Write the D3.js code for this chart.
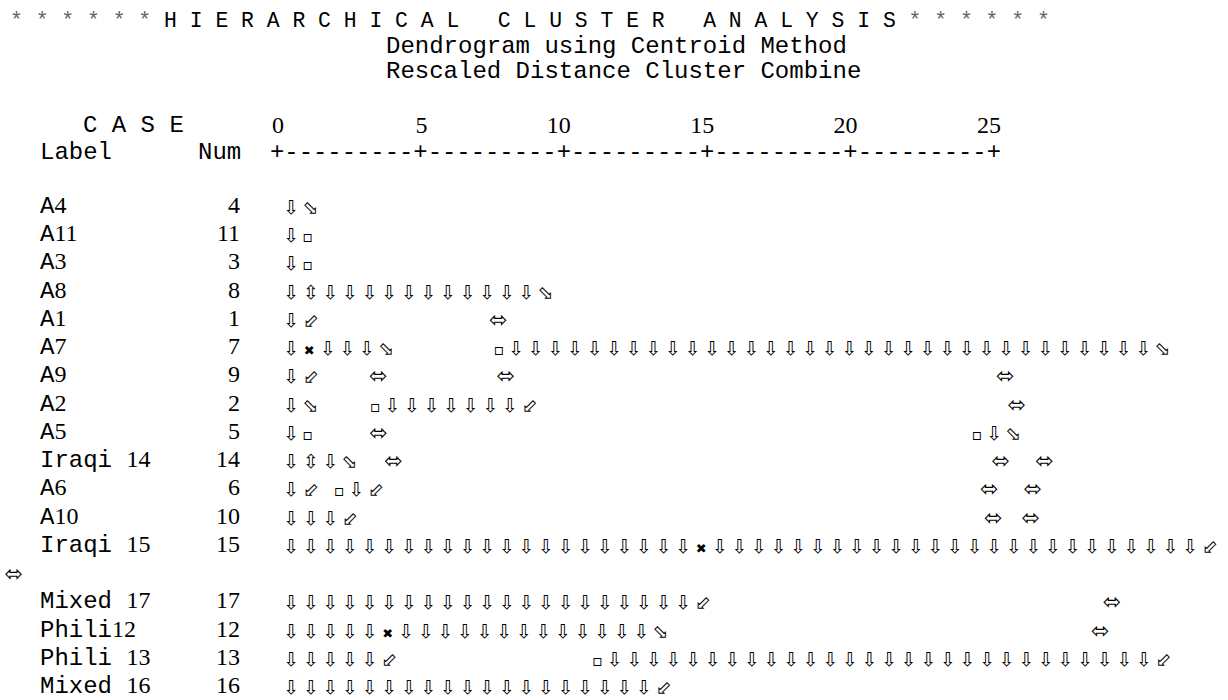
<!DOCTYPE html>
<html>
<head>
<meta charset="utf-8">
<script src="https://cdn.jsdelivr.net/npm/d3@7"></script>
<style>
  body { margin: 0; background: #fff; }
  text { fill: #000; }
</style>
</head>
<body>
<div id="chart"></div>
<script>
// text of the SPSS dendrogram output
var titleStars = "* * * * * *";
var titleWords = "H I E R A R C H I C A L   C L U S T E R   A N A L Y S I S";
var subtitles = ["Dendrogram using Centroid Method", "Rescaled Distance Cluster Combine"];
var axisTicks = [0, 5, 10, 15, 20, 25];
var axisRule = "+---------+---------+---------+---------+---------+";

var caseLabels = ["A4", "A11", "A3", "A8", "A1", "A7", "A9", "A2", "A5", "Iraqi 14",
                  "A6", "A10", "Iraqi 15", "", "Mixed 17", "Phili12", "Phili 13", "Mixed 16"];
var caseNums = ["4", "11", "3", "8", "1", "7", "9", "2", "5", "14",
                "6", "10", "15", "", "17", "12", "13", "16"];
// tree lines, glyph{n} = glyph repeated n times, " {n}" = n blanks
var treeLines = [
  "⇩⬂",
  "⇩▫",
  "⇩▫",
  "⇩⇳⇩{11}⬂",
  "⇩⬃ {28}⬄",
  "⇩✖⇩{3}⬂ {16}▫⇩{33}⬂",
  "⇩⬃ {8}⬄ {18}⬄ {80}⬄",
  "⇩⬂ {8}▫⇩{7}⬃ {78}⬄",
  "⇩▫ {9}⬄ {97}▫⇩⬂",
  "⇩⇳⇩⬂ {4}⬄ {98}⬄ {4}⬄",
  "⇩⬃ {2}▫⇩⬃ {99}⬄ {4}⬄",
  "⇩{3}⬃ {104}⬄ {3}⬄",
  "⇩{21}✖⇩{25}⬃",
  "⬄",
  "⇩{21}⬃ {65}⬄",
  "⇩{5}✖⇩{13}⬂ {70}⬄",
  "⇩{5}⬃ {32}▫⇩{28}⬃",
  "⇩{19}⬃"
];
var wrappedLine = 13;

var width = 1228, height = 700;
var mono = "'Liberation Mono','Courier New',monospace",
    serif = "'Liberation Serif','Times New Roman',serif",
    sym = "'DejaVu Sans',sans-serif";
var nbsp = function(s) { return s.replace(/ /g, "\u00A0"); };

var svg = d3.select("#chart").append("svg")
    .attr("width", width)
    .attr("height", height);

// title: stars, spaced words, stars
var title = svg.append("text")
  .attr("x", 10).attr("y", 27)
  .style("font-family", mono).style("font-size", "21.4px");
title.append("tspan").style("fill", "#666").text(nbsp(titleStars + " "));
title.append("tspan").text(nbsp(titleWords + " "));
title.append("tspan").style("fill", "#666").text(nbsp(titleStars));

svg.selectAll(".subtitle")
  .data(subtitles)
  .enter().append("text")
    .attr("class", "subtitle")
    .attr("x", 386)
    .attr("y", function(d, i) { return 53 + i * 25; })
    .style("font-family", mono).style("font-size", "24px")
    .text(function(d) { return d; });

// header + distance scale
var x = d3.scaleLinear().domain([0, 25]).range([277, 994]);

svg.append("text").attr("x", 83).attr("y", 132)
  .style("font-family", mono).style("font-size", "24px").text(nbsp("C A S E"));
svg.append("text").attr("x", 40).attr("y", 159)
  .style("font-family", mono).style("font-size", "24px").text("Label");
svg.append("text").attr("x", 198).attr("y", 159)
  .style("font-family", mono).style("font-size", "24px").text("Num");

svg.selectAll(".tick")
  .data(axisTicks)
  .enter().append("text")
    .attr("class", "tick")
    .attr("x", function(d) { return x(d) + 7; })
    .attr("y", 133)
    .attr("text-anchor", "end")
    .style("font-family", serif).style("font-size", "24px")
    .text(function(d) { return d; });

svg.append("text")
  .attr("x", x(0) - 7)
  .attr("y", 159)
  .attr("textLength", x(25) - x(0) + 14)
  .attr("lengthAdjust", "spacingAndGlyphs")
  .style("font-family", mono).style("font-size", "24px")
  .text(axisRule);

// case rows
var y = d3.scaleLinear().domain([0, caseLabels.length - 1]).range([213, 693]);

var labels = svg.selectAll(".label")
  .data(caseLabels)
  .enter().append("text")
    .attr("class", "label")
    .attr("x", 40)
    .attr("y", function(d, i) { return y(i); })
    .style("font-size", "24px");

// letters in Courier, digits in Times, as in the source document
labels.selectAll("tspan")
  .data(function(d) { return d.split(/(\d+)/).filter(function(s) { return s.length; }); })
  .enter().append("tspan")
    .style("font-family", function(s) { return /\d/.test(s) ? serif : mono; })
    .text(function(s) { return nbsp(s); });

svg.selectAll(".num")
  .data(caseNums)
  .enter().append("text")
    .attr("class", "num")
    .attr("x", 240)
    .attr("y", function(d, i) { return y(i); })
    .attr("text-anchor", "end")
    .style("font-family", serif).style("font-size", "24px")
    .text(function(d) { return d; });

// tree glyph advances, in glyph cells
var advance = { " ": 0.306, "▫": 0.714, "✖": 0.867 };
var cell = d3.scaleLinear().domain([0, 1]).range([0, 19.6]);

function expand(line) {
  var out = [];
  var re = /(.)(?:\{(\d+)\})?/gu, m;
  while ((m = re.exec(line)) !== null) {
    var n = m[2] ? +m[2] : 1;
    for (var k = 0; k < n; k++) out.push(m[1]);
  }
  return out;
}

var glyphs = [];
treeLines.forEach(function(line, i) {
  var pos = 0;
  var start = i === wrappedLine ? 4 : 281.2;
  expand(line).forEach(function(ch) {
    var a = advance[ch] !== undefined ? advance[ch] : 1;
    if (ch !== " ") glyphs.push({ row: i, ch: ch, cx: start + cell(pos + a / 2) });
    pos += a;
  });
});

var glyphSize = { "✖": "13px", "▫": "16px", "⬄": "22px" };

svg.selectAll(".glyph")
  .data(glyphs)
  .enter().append("text")
    .attr("class", "glyph")
    .attr("x", function(d) { return d.cx; })
    .attr("y", function(d) { return y(d.row) + 1; })
    .attr("text-anchor", "middle")
    .style("font-family", sym)
    .style("font-size", function(d) { return glyphSize[d.ch] || "19px"; })
    .text(function(d) { return d.ch; });
</script>
</body>
</html>
